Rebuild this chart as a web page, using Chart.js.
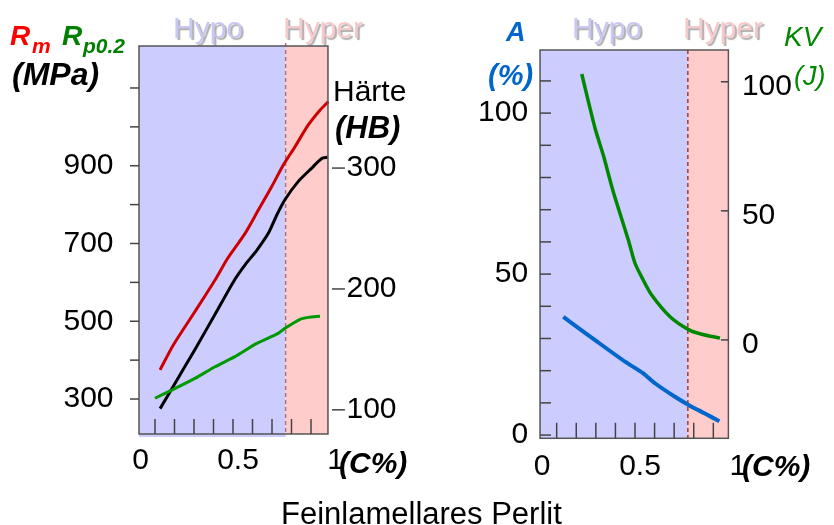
<!DOCTYPE html>
<html>
<head>
<meta charset="utf-8">
<script src="https://cdn.jsdelivr.net/npm/chart.js@4.4.1/dist/chart.umd.min.js"></script>
<style>
  body { margin: 0; background: #fff; }
  #wrap { position: relative; width: 834px; height: 525px; overflow: hidden; font-family: "Liberation Sans", Arial, sans-serif; }
  canvas { position: absolute; top: 0; }
  .t { position: absolute; line-height: 1; white-space: nowrap; }
</style>
</head>
<body>
<div id="wrap">
  <canvas id="left" width="417" height="525" style="left:0"></canvas>
  <canvas id="right" width="417" height="525" style="left:417px"></canvas>
</div>
<script>
// Data (carbon content in %)
const EUTECTOID = 0.77;

// left panel: strength and hardness
const RM_C   = [0.126, 0.194, 0.305, 0.408, 0.468, 0.502, 0.562, 0.630, 0.698, 0.758, 0.818, 0.886, 0.946, 0.989];
const RM_MPA = [375, 439, 525, 606, 658, 683, 726, 786, 846, 902, 949, 1005, 1043, 1065];
const RP_C   = [0.100, 0.186, 0.305, 0.408, 0.510, 0.622, 0.732, 0.767, 0.844, 0.886, 0.946];
const RP_MPA = [302, 323, 353, 383, 409, 443, 469, 482, 505, 510, 513];
const HB_C   = [0.126, 0.203, 0.305, 0.408, 0.510, 0.562, 0.622, 0.681, 0.724, 0.767, 0.835, 0.904, 0.955, 0.985];
const HB_VAL = [101, 122, 150, 179, 208, 220, 232, 246, 261, 274, 289, 300, 308, 309];

// right panel: elongation and impact energy
const A_C   = [0.134, 0.296, 0.449, 0.542, 0.602, 0.704, 0.776, 0.857, 0.931];
const A_PCT = [36.7, 29.5, 22.8, 19.2, 16.1, 11.9, 9.3, 6.7, 4.3];
const KV_C  = [0.228, 0.296, 0.338, 0.389, 0.466, 0.500, 0.542, 0.585, 0.679, 0.776, 0.841, 0.934];
const KV_J  = [103, 82, 71.6, 57.4, 38.7, 29.7, 23.2, 17.4, 9.0, 3.9, 2.2, 0.7];

// ticks
const C_LABELS  = [0, 0.5, 1];
const C_MINOR   = [0.1, 0.2, 0.3, 0.4, 0.5, 0.6, 0.7, 0.8, 0.9];
const MPA_TICKS = [300, 400, 500, 600, 700, 800, 900, 1000, 1100];
const MPA_LABELS = [300, 500, 700, 900];
const HB_TICKS  = [100, 200, 300];
const A_TICKS   = [0, 10, 20, 30, 40, 50, 60, 70, 80, 90, 100, 110];
const A_LABELS  = [0, 50, 100];
const KV_TICKS  = [0, 50, 100];

const FONT = '"Liberation Sans", Arial, sans-serif';

// free text around the plots
const TEXTS = [
  { t: 'R', x: 10, b: 43.5, s: 28, f: 'italic bold', c: '#ff0000' },
  { t: 'm', x: 32, b: 51.5, s: 21, f: 'italic bold', c: '#ff0000' },
  { t: 'R', x: 62, b: 43.5, s: 28, f: 'italic bold', c: '#008000' },
  { t: 'p0.2', x: 83, b: 51.5, s: 21, f: 'italic bold', c: '#008000' },
  { t: '(MPa)', x: 12, b: 83, s: 32, f: 'italic bold', c: '#000' },
  { t: 'Hypo', x: 173, b: 36, s: 30, c: '#c8c8f2', sh: true },
  { t: 'Hyper', x: 283, b: 36, s: 30, c: '#f6caca', sh: true },
  { t: 'Härte', x: 333, b: 99, s: 30, c: '#000' },
  { t: '(HB)', x: 335, b: 136, s: 31, f: 'italic bold', c: '#000' },
  { t: '(C%)', x: 339, b: 471, s: 30, f: 'italic bold', c: '#000' },
  { t: 'A', x: 506, b: 40, s: 27, f: 'italic bold', c: '#0066cc' },
  { t: '(%)', x: 488, b: 84, s: 29, f: 'italic bold', c: '#0066cc' },
  { t: 'Hypo', x: 572, b: 36, s: 30, c: '#c8c8f2', sh: true },
  { t: 'Hyper', x: 683, b: 36, s: 30, c: '#f6caca', sh: true },
  { t: 'KV', x: 784, b: 45, s: 28, f: 'italic', c: '#008800' },
  { t: '(J)', x: 794, b: 84, s: 27, f: 'italic', c: '#008800' },
  { t: '(C%)', x: 742, b: 474, s: 30, f: 'italic bold', c: '#000' },
  { t: 'Feinlamellares Perlit', x: 281, b: 522, s: 31, c: '#000' }
];

const wrap = document.getElementById('wrap');
TEXTS.forEach(o => {
  const el = document.createElement('div');
  el.className = 't';
  el.textContent = o.t;
  el.style.left = o.x + 'px';
  el.style.top = (o.b - 0.8465 * o.s) + 'px';
  el.style.font = (o.f || 'normal') + ' ' + o.s + 'px ' + FONT;
  el.style.color = o.c;
  if (o.sh) el.style.textShadow = '2px 2px 1px rgba(110,110,110,0.55)';
  wrap.appendChild(el);
});

function pts(xs, ys) {
  return xs.map((x, i) => ({ x: x, y: ys[i] }));
}

// background bands, dashed eutectoid line, frame and tick marks
function panelPlugin(opt) {
  return {
    id: 'panel',
    beforeDatasetsDraw(chart) {
      const ctx = chart.ctx, sx = chart.scales.x, a = chart.chartArea;
      const L = sx.getPixelForValue(opt.box[0]);
      const R = sx.getPixelForValue(opt.box[1]);
      const S = sx.getPixelForValue(EUTECTOID);
      ctx.save();
      ctx.fillStyle = '#ccccff';
      ctx.fillRect(L, a.top, S - L, a.bottom - a.top + opt.below);
      ctx.fillStyle = '#ffcccc';
      ctx.fillRect(S, a.top, R - S, a.bottom - a.top);
      ctx.strokeStyle = opt.dash;
      ctx.lineWidth = 1.4;
      ctx.setLineDash([4, 3]);
      ctx.beginPath();
      ctx.moveTo(S, a.top - opt.dashUp);
      ctx.lineTo(S, a.bottom);
      ctx.stroke();
      ctx.restore();
    },
    afterDatasetsDraw(chart) {
      const ctx = chart.ctx, sx = chart.scales.x, a = chart.chartArea;
      const L = sx.getPixelForValue(opt.box[0]);
      const R = sx.getPixelForValue(opt.box[1]);
      ctx.save();
      ctx.strokeStyle = '#555';
      ctx.lineWidth = 1.5;
      ctx.strokeRect(L, a.top, R - L, a.bottom - a.top);
      ctx.strokeStyle = '#444';
      opt.marks.forEach(m => {
        const sc = chart.scales[m.axis];
        m.values.forEach(v => {
          const p = sc.getPixelForValue(v);
          ctx.beginPath();
          if (m.axis === 'x') {
            ctx.moveTo(p, a.bottom);
            ctx.lineTo(p, a.bottom - m.len);
          } else {
            const x0 = (m.at === 'L' ? L : R) + m.from;
            ctx.moveTo(x0, p);
            ctx.lineTo(x0 + m.len, p);
          }
          ctx.stroke();
        });
      });
      ctx.restore();
    }
  };
}

function xAxis(height, pad) {
  return {
    type: 'linear', min: 0, max: 1,
    grid: { display: false, drawTicks: false },
    border: { display: false },
    ticks: {
      autoSkip: false, maxRotation: 0, padding: pad, labelOffset: 5,
      color: '#000', font: { family: FONT, size: 30 },
      callback: v => String(v)
    },
    afterBuildTicks: s => { s.ticks = C_LABELS.map(v => ({ value: v })); },
    afterFit: s => { s.height = height; }
  };
}

function yAxis(pos, min, max, labels, width, pad, offset) {
  return {
    type: 'linear', position: pos, min: min, max: max,
    grid: { display: false, drawTicks: false },
    border: { display: false },
    ticks: {
      autoSkip: false, padding: pad, labelOffset: offset || 0,
      color: '#000', font: { family: FONT, size: 30 },
      callback: v => String(v)
    },
    afterBuildTicks: s => { s.ticks = labels.map(v => ({ value: v })); },
    afterFit: s => { s.width = width; }
  };
}

function line(data, axis, color, width) {
  return {
    data: data, yAxisID: axis,
    borderColor: color, borderWidth: width,
    pointRadius: 0, tension: 0.25, fill: false
  };
}

const common = {
  responsive: false,
  animation: false,
  plugins: { legend: { display: false }, tooltip: { enabled: false } }
};

// Left panel
new Chart(document.getElementById('left'), {
  type: 'line',
  data: {
    datasets: [
      line(pts(RP_C, RP_MPA), 'yL', '#009900', 3),
      line(pts(HB_C, HB_VAL), 'yR', '#000000', 3),
      line(pts(RM_C, RM_MPA), 'yL', '#cc0000', 3)
    ]
  },
  options: Object.assign({}, common, {
    layout: { padding: { top: 46, left: 0, right: 0, bottom: 0 } },
    scales: {
      x: xAxis(91, 9),
      yL: yAxis('left', 210, 1208, MPA_LABELS, 135.5, 22),
      yR: yAxis('right', 80, 401, HB_TICKS, 86.5, 16)
    }
  }),
  plugins: [panelPlugin({
    box: [0.018, 0.987], below: 3, dashUp: 3, dash: '#a87074',
    marks: [
      { axis: 'x', values: C_MINOR, len: 15 },
      { axis: 'yL', values: MPA_TICKS, at: 'L', from: -9, len: 9 },
      { axis: 'yR', values: HB_TICKS, at: 'R', from: 4, len: 13 }
    ]
  })]
});

// Right panel
new Chart(document.getElementById('right'), {
  type: 'line',
  data: {
    datasets: [
      line(pts(KV_C, KV_J), 'yK', '#008800', 3.5),
      line(pts(A_C, A_PCT), 'yA', '#0066cc', 4)
    ]
  },
  options: Object.assign({}, common, {
    layout: { padding: { top: 50, left: 0, right: 0, bottom: 0 } },
    scales: {
      x: xAxis(86.7, 10),
      yA: yAxis('left', -1.0, 119.6, A_LABELS, 120.1, 9),
      yK: yAxis('right', -38.1, 112.3, KV_TICKS, 101.1, 9, 5)
    }
  }),
  plugins: [panelPlugin({
    box: [0.015, 0.977], below: 0, dashUp: 0, dash: '#a0301a',
    marks: [
      { axis: 'x', values: C_MINOR, len: 15.5 },
      { axis: 'yA', values: A_TICKS, at: 'L', from: 0, len: 11 },
      { axis: 'yK', values: KV_TICKS, at: 'R', from: -7.5, len: 7.5 }
    ]
  })]
});
</script>
</body>
</html>
